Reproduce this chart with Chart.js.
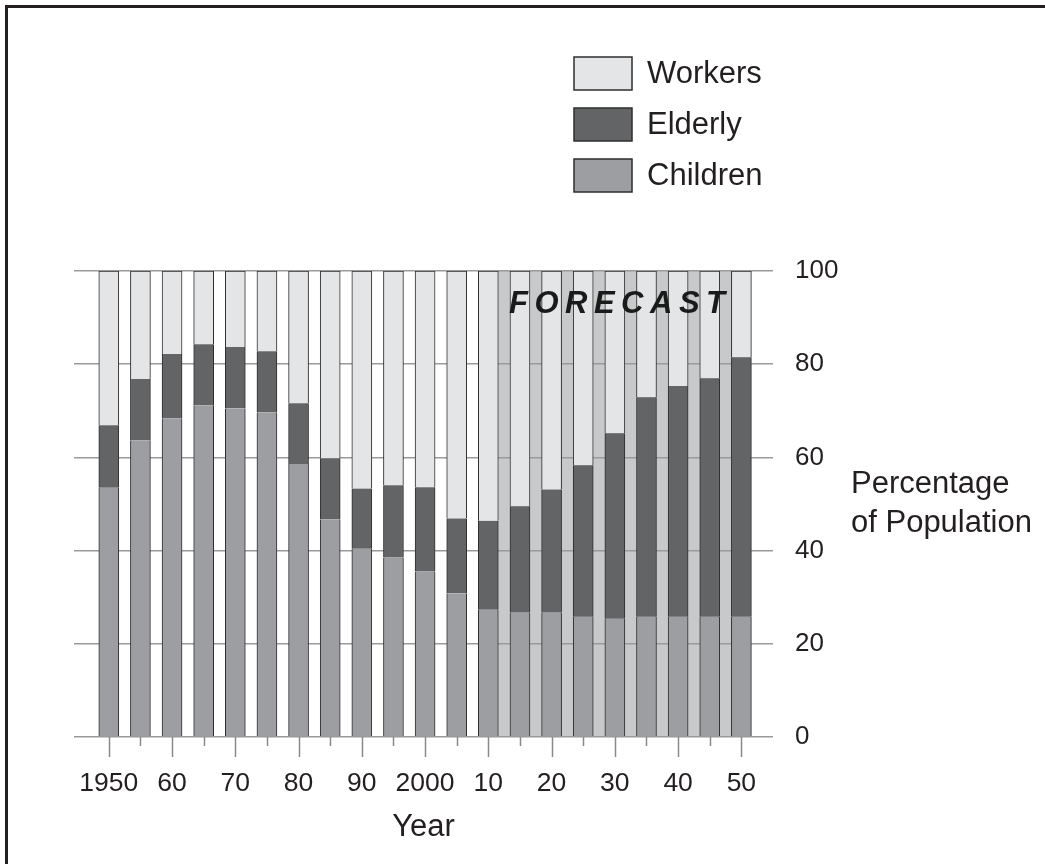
<!DOCTYPE html>
<html>
<head>
<meta charset="utf-8">
<script src="https://cdn.jsdelivr.net/npm/chart.js@4"></script>
<style>
  html, body { margin: 0; padding: 0; background: #fff; }
  canvas { display: block; }
</style>
</head>
<body>
<canvas id="chart" width="1045" height="864"></canvas>
<script>
const years = [1950, 1955, 1960, 1965, 1970, 1975, 1980, 1985, 1990, 1995, 2000,
               2005, 2010, 2015, 2020, 2025, 2030, 2035, 2040, 2045, 2050];
const children = [53.5, 63.7, 68.4, 71.2, 70.5, 69.7, 58.6, 46.7, 40.4, 38.5, 35.5,
                  30.8, 27.3, 26.7, 26.7, 25.8, 25.4, 25.8, 25.8, 25.8, 25.8];
const elderly = [13.4, 13.1, 13.8, 13.1, 13.2, 13.1, 13.0, 13.1, 12.9, 15.5, 18.1,
                 16.1, 19.1, 22.8, 26.4, 32.5, 39.8, 47.1, 49.5, 51.2, 55.7];
const workers = [33.1, 23.2, 17.8, 15.7, 16.3, 17.2, 28.4, 40.2, 46.7, 46.0, 46.4,
                 53.1, 53.6, 50.5, 46.9, 41.7, 34.8, 27.1, 24.7, 23.0, 18.5];
const decadeTicks = [1950, 1960, 1970, 1980, 1990, 2000, 2010, 2020, 2030, 2040, 2050];
const decadeLabels = ['1950', '60', '70', '80', '90', '2000', '10', '20', '30', '40', '50'];
const lastObservedYear = 2010;

const FONT = '"Liberation Sans", Arial, Helvetica, sans-serif';
const INK = '#231f20';
const EDGE = '#2e2e2e';

function toPoints(vals) {
  return vals.map((v, i) => ({ x: years[i], y: v }));
}

// frame, forecast band, tick marks, legend, right-hand title
const decor = {
  id: 'decor',
  beforeDraw(chart) {
    const ctx = chart.ctx;
    const ys = chart.scales.y;
    ctx.save();
    ctx.fillStyle = '#fff';
    ctx.fillRect(0, 0, chart.width, chart.height);
    ctx.fillStyle = INK;
    ctx.fillRect(5, 5, chart.width - 5, 3);
    ctx.fillRect(5, 5, 3, chart.height - 5);

    const meta = chart.getDatasetMeta(0);
    const i0 = years.indexOf(lastObservedYear);
    const first = meta.data[i0], last = meta.data[meta.data.length - 1];
    const x0 = first.x + first.width / 2;
    const x1 = last.x + last.width / 2;
    ctx.fillStyle = '#c8c9cb';
    ctx.fillRect(x0, ys.getPixelForValue(100), x1 - x0, ys.getPixelForValue(0) - ys.getPixelForValue(100));
    ctx.restore();
  },
  afterDraw(chart) {
    const ctx = chart.ctx;
    const xs = chart.scales.x, ys = chart.scales.y;
    const base = ys.getPixelForValue(0);
    ctx.save();

    // x tick marks
    ctx.strokeStyle = '#8a8a8a';
    ctx.lineWidth = 1.5;
    years.forEach(yr => {
      const x = Math.round(xs.getPixelForValue(yr)) + 0.5;
      const len = decadeTicks.includes(yr) ? 20 : 9;
      ctx.beginPath();
      ctx.moveTo(x, base);
      ctx.lineTo(x, base + len);
      ctx.stroke();
    });

    // FORECAST label
    ctx.fillStyle = '#1a1a1a';
    ctx.font = 'italic bold 31px ' + FONT;
    ctx.textBaseline = 'middle';
    ctx.textAlign = 'left';
    let fx = 509;
    const fy = 304;
    for (const ch of 'FORECAST') {
      ctx.fillText(ch, fx, fy);
      fx += ctx.measureText(ch).width + 6.5;
    }

    // legend (top to bottom: Workers, Elderly, Children)
    const order = [2, 1, 0];
    ctx.font = '31px ' + FONT;
    order.forEach((di, k) => {
      const ds = chart.data.datasets[di];
      const top = 57 + k * 51;
      ctx.fillStyle = ds.backgroundColor;
      ctx.fillRect(574, top, 58, 33);
      ctx.strokeStyle = EDGE;
      ctx.lineWidth = 1.5;
      ctx.strokeRect(574, top, 58, 33);
      ctx.fillStyle = INK;
      ctx.textBaseline = 'middle';
      ctx.fillText(ds.label, 647, top + 17);
    });

    // y title
    ctx.fillStyle = INK;
    ctx.font = '31px ' + FONT;
    ctx.fillText('Percentage', 851, 484);
    ctx.fillText('of Population', 851, 523);
    ctx.restore();
  }
};

const barEdge = { left: 1, right: 1, top: 0, bottom: 0 };

new Chart(document.getElementById('chart'), {
  type: 'bar',
  data: {
    datasets: [
      { label: 'Children', data: toPoints(children), backgroundColor: '#9d9ea1',
        borderColor: EDGE, borderWidth: barEdge, borderSkipped: false },
      { label: 'Elderly', data: toPoints(elderly), backgroundColor: '#636466',
        borderColor: EDGE, borderWidth: barEdge, borderSkipped: false },
      { label: 'Workers', data: toPoints(workers), backgroundColor: '#e4e5e7',
        borderColor: EDGE, borderWidth: { left: 1, right: 1, top: 1, bottom: 0 }, borderSkipped: false }
    ]
  },
  options: {
    responsive: false,
    animation: false,
    layout: { padding: { left: 74, top: 271, right: 0, bottom: 0 } },
    barThickness: 20,
    plugins: {
      legend: { display: false },
      tooltip: { enabled: false }
    },
    scales: {
      x: {
        type: 'linear',
        stacked: true,
        offset: false,
        min: 1944.5,
        max: 2055,
        grid: { display: false },
        border: { display: false },
        afterBuildTicks: scale => { scale.ticks = decadeTicks.map(v => ({ value: v })); },
        afterFit: scale => { scale.height = 127; },
        ticks: {
          autoSkip: false,
          maxRotation: 0,
          padding: 23,
          color: INK,
          font: { family: FONT, size: 26.5 },
          callback: (value) => decadeLabels[decadeTicks.indexOf(value)]
        },
        title: {
          display: true,
          text: 'Year',
          color: INK,
          font: { family: FONT, size: 31 },
          padding: { top: 0, bottom: 18 }
        }
      },
      y: {
        position: 'right',
        stacked: true,
        min: 0,
        max: 100,
        afterFit: scale => { scale.width = 272; },
        grid: { color: '#9a9a9a', lineWidth: 1.5, drawTicks: false },
        border: { display: false },
        ticks: {
          stepSize: 20,
          padding: 22,
          color: INK,
          font: { family: FONT, size: 26 }
        }
      }
    }
  },
  plugins: [decor]
});
</script>
</body>
</html>
